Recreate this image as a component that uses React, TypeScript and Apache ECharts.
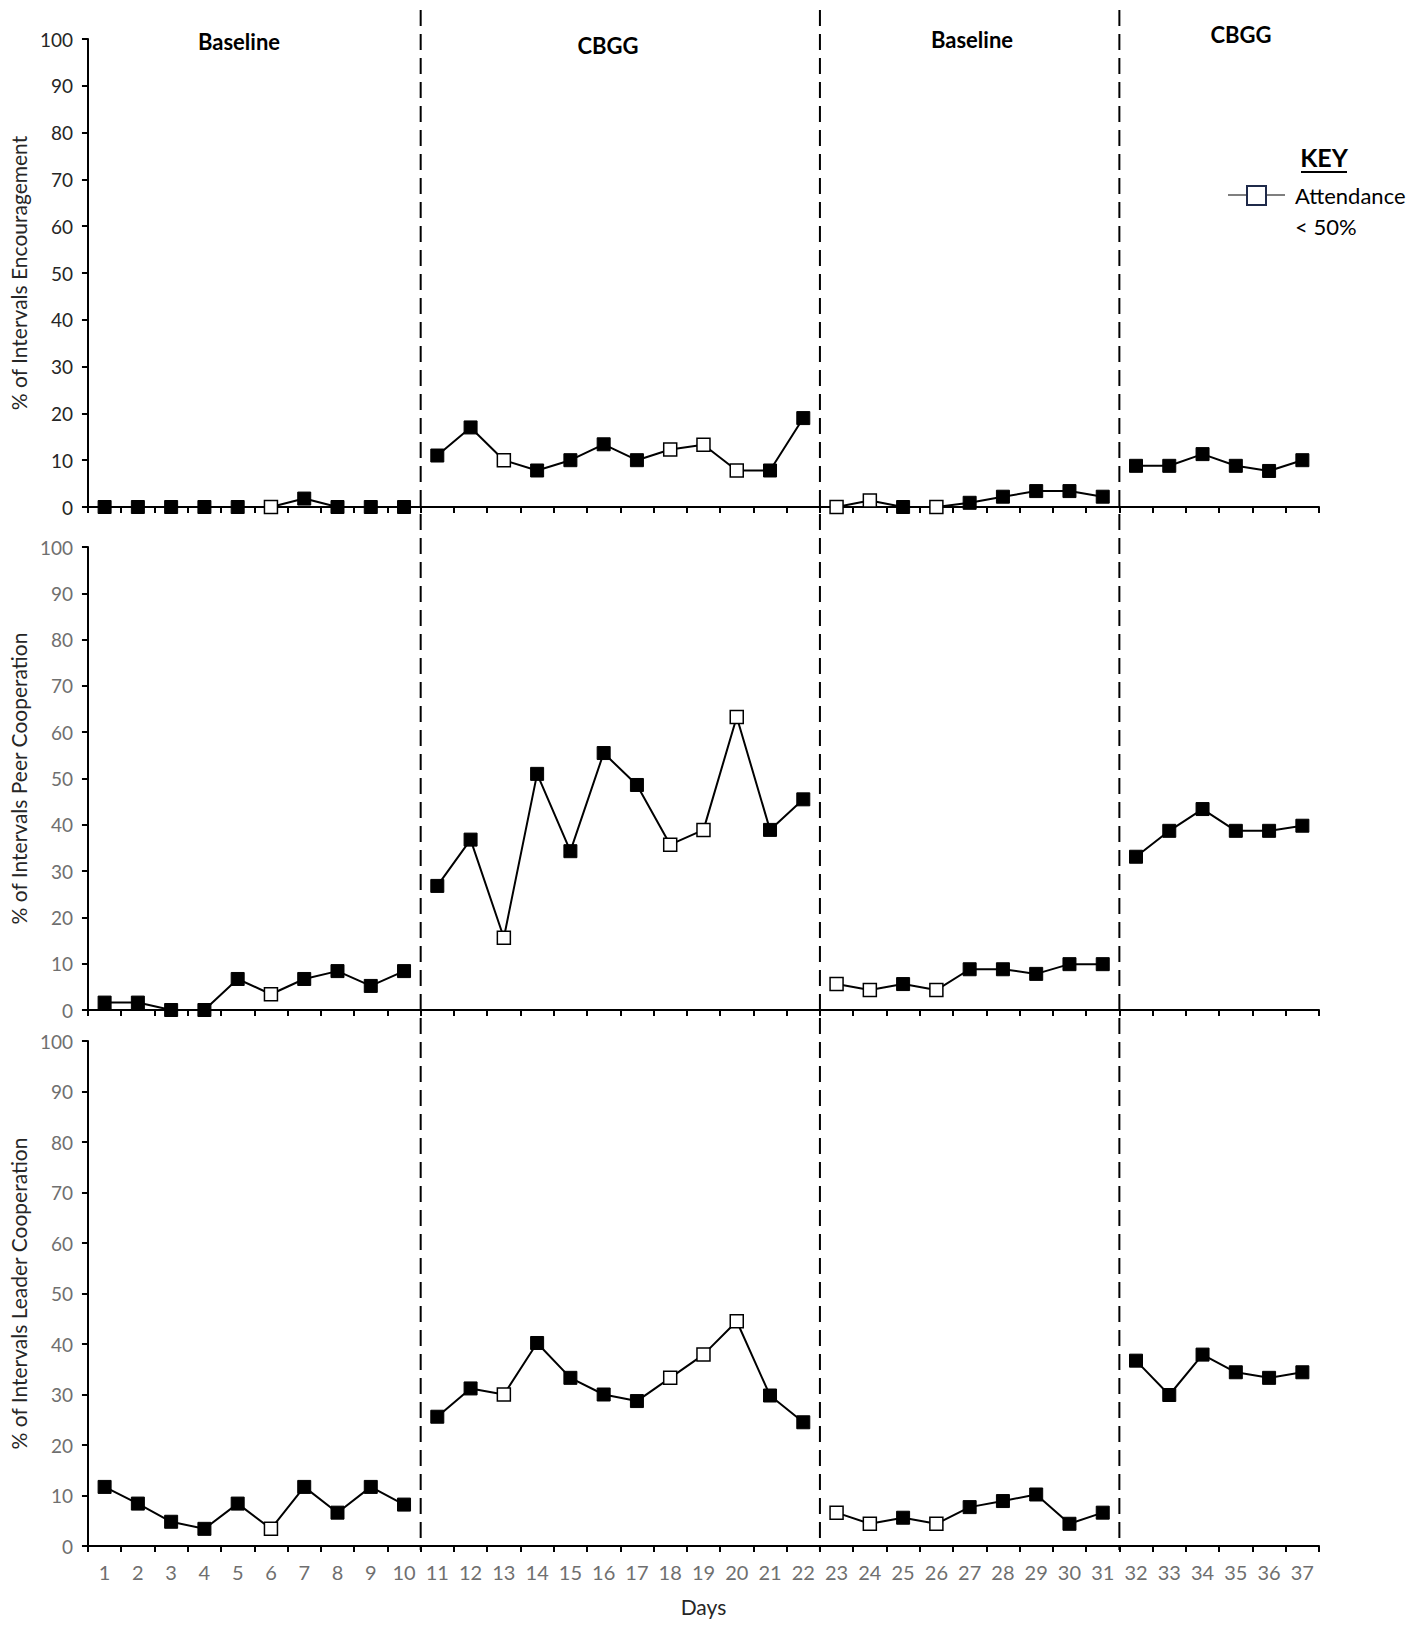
import React, { useEffect, useRef } from "react";
import * as echarts from "echarts";

const days = ["1","2","3","4","5","6","7","8","9","10","11","12","13","14","15","16","17","18","19","20","21","22","23","24","25","26","27","28","29","30","31","32","33","34","35","36","37"];

const phaseNames = ["Baseline", "CBGG", "Baseline", "CBGG"];
const phaseStartDay = [1, 11, 23, 32];
const phaseEndDay = [10, 22, 31, 37];

// days where attendance < 50% (open markers)
const lowAttendanceDays = [6, 13, 18, 19, 20, 23, 24, 26];

const encouragement = [0, 0, 0, 0, 0, 0, 1.8, 0, 0, 0, 11, 17, 10, 7.8, 10, 13.4, 10, 12.3, 13.3, 7.8, 7.8, 19, 0, 1.4, 0, 0, 0.9, 2.2, 3.4, 3.4, 2.2, 8.8, 8.8, 11.3, 8.8, 7.7, 10];
const peerCooperation = [1.6, 1.6, 0, 0, 6.7, 3.4, 6.7, 8.4, 5.2, 8.4, 26.8, 36.8, 15.6, 51, 34.3, 55.5, 48.6, 35.7, 38.9, 63.3, 38.9, 45.5, 5.6, 4.3, 5.6, 4.3, 8.8, 8.8, 7.8, 9.9, 9.9, 33.1, 38.7, 43.4, 38.7, 38.7, 39.8];
const leaderCooperation = [11.7, 8.4, 4.8, 3.4, 8.4, 3.4, 11.7, 6.6, 11.7, 8.2, 25.6, 31.2, 30, 40.2, 33.3, 30, 28.7, 33.3, 37.9, 44.5, 29.8, 24.5, 6.6, 4.4, 5.6, 4.4, 7.7, 8.9, 10.2, 4.4, 6.6, 36.7, 29.9, 37.9, 34.4, 33.3, 34.4];

const panelTitles = ["% of Intervals Encouragement", "% of Intervals Peer Cooperation", "% of Intervals Leader Cooperation"];
const panelData = [encouragement, peerCooperation, leaderCooperation];
const yTicks = [0, 10, 20, 30, 40, 50, 60, 70, 80, 90, 100];

const FONT = "Lato, 'Open Sans', sans-serif";

export default function App() {
  const ref = useRef<HTMLDivElement>(null);
  useEffect(() => {
    document.body.style.margin = "0";
    if (!ref.current) return;
    const chart = echarts.init(ref.current, null, { renderer: "svg" });

    const grids = [
      { left: 86, right: 105, top: 39, height: 468 },
      { left: 86, right: 105, top: 547, height: 463 },
      { left: 86, right: 105, top: 1041, height: 505 },
    ];

    const xAxes = grids.map((_, i) => ({
      type: "category",
      gridIndex: i,
      data: days,
      boundaryGap: true,
      axisLine: { lineStyle: { color: "#000", width: 2 } },
      axisTick: { show: true, interval: 0, length: 6, lineStyle: { color: "#000", width: 2 } },
      axisLabel: {
        show: i === 2,
        interval: 0,
        color: "#6f6f6f",
        fontFamily: FONT,
        fontSize: 20,
        margin: 16,
      },
      name: i === 2 ? "Days" : "",
      nameLocation: "middle",
      nameGap: 50,
      nameTextStyle: { color: "#262626", fontFamily: FONT, fontSize: 21 },
      splitLine: { show: false },
    }));

    const yAxes = grids.map((_, i) => ({
      type: "value",
      gridIndex: i,
      min: 0,
      max: 100,
      interval: 10,
      axisLine: { show: true, lineStyle: { color: "#000", width: 2 } },
      axisTick: { show: true, length: 6, lineStyle: { color: "#000", width: 2 } },
      axisLabel: {
        color: i === 0 ? "#262626" : "#6f6f6f",
        fontFamily: FONT,
        fontSize: 19,
        margin: 15,
        formatter: (v: number) => (yTicks.includes(v) ? String(v) : ""),
      },
      splitLine: { show: false },
      name: panelTitles[i],
      nameLocation: "middle",
      nameGap: 58,
      nameRotate: 90,
      nameTextStyle: { color: "#262626", fontFamily: FONT, fontSize: 21 },
    }));

    const series: any[] = [];
    panelData.forEach((values, p) => {
      phaseStartDay.forEach((start, ph) => {
        const end = phaseEndDay[ph];
        const data = values.map((v, idx) => {
          const day = idx + 1;
          if (day < start || day > end) return "-";
          const open = lowAttendanceDays.includes(day);
          return {
            value: v,
            itemStyle: open
              ? { color: "#fff", borderColor: "#000", borderWidth: 1.5 }
              : { color: "#000", borderColor: "#000", borderWidth: 1 },
          };
        });
        series.push({
          type: "line",
          name: `${panelTitles[p]} ${phaseNames[ph]} ${ph}`,
          xAxisIndex: p,
          yAxisIndex: p,
          data,
          symbol: "rect",
          symbolSize: 13,
          showSymbol: true,
          connectNulls: false,
          clip: false,
          lineStyle: { color: "#000", width: 2 },
          itemStyle: { color: "#000" },
          z: 5,
        });
      });
    });

    const phaseStyle = { fontFamily: FONT, fontWeight: "bold", fontSize: 22, fill: "#000", align: "center", verticalAlign: "middle" };
    const staticGraphics: any[] = [
      { id: "ph0", type: "text", x: 239, y: 41, style: { ...phaseStyle, text: phaseNames[0] } },
      { id: "ph1", type: "text", x: 608, y: 45, style: { ...phaseStyle, text: phaseNames[1] } },
      { id: "ph2", type: "text", x: 972, y: 39, style: { ...phaseStyle, text: phaseNames[2] } },
      { id: "ph3", type: "text", x: 1241, y: 34, style: { ...phaseStyle, text: phaseNames[3] } },
      { id: "keyT", type: "text", x: 1324, y: 157, style: { text: "KEY", fontFamily: FONT, fontWeight: "bold", fontSize: 25, fill: "#000", align: "center", verticalAlign: "middle" } },
      { id: "keyU", type: "line", shape: { x1: 1301, y1: 172, x2: 1347, y2: 172 }, style: { stroke: "#000", lineWidth: 2 } },
      { id: "keyL", type: "line", shape: { x1: 1228, y1: 195, x2: 1285, y2: 195 }, style: { stroke: "#555", lineWidth: 1.5 } },
      { id: "keyR", type: "rect", shape: { x: 1247, y: 186, width: 19, height: 19 }, style: { fill: "#fff", stroke: "#1f2a4a", lineWidth: 2 } },
      { id: "keyA", type: "text", x: 1295, y: 195, style: { text: "Attendance", fontFamily: FONT, fontSize: 22, fill: "#000", align: "left", verticalAlign: "middle" } },
      { id: "keyB", type: "text", x: 1295, y: 226, style: { text: "< 50%", fontFamily: FONT, fontSize: 22, fill: "#000", align: "left", verticalAlign: "middle" } },
    ];

    chart.setOption({
      animation: false,
      backgroundColor: "#fff",
      grid: grids,
      xAxis: xAxes,
      yAxis: yAxes,
      series,
      graphic: staticGraphics,
    });

    // phase-change dashed lines, positioned through the axis scales
    const bottomY = chart.convertToPixel({ yAxisIndex: 2 }, 0) as number;
    const phaseLines = phaseEndDay.slice(0, 3).map((endDay, k) => {
      const a = chart.convertToPixel({ xAxisIndex: 2 }, endDay - 1) as number;
      const b = chart.convertToPixel({ xAxisIndex: 2 }, endDay) as number;
      const x = (a + b) / 2;
      return {
        id: "pl" + k,
        type: "line",
        shape: { x1: x, y1: 10, x2: x, y2: bottomY + 4 },
        style: { stroke: "#000", lineWidth: 2, lineDash: [16, 8] },
        z: 10,
      };
    });
    chart.setOption({ graphic: [...staticGraphics, ...phaseLines] });

    return () => chart.dispose();
  }, []);
  return <div ref={ref} style={{ width: 1424, height: 1626 }} />;
}
